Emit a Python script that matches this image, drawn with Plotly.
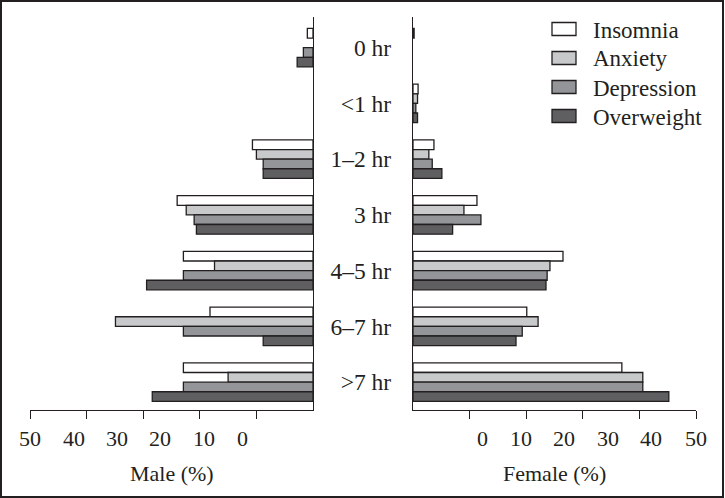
import plotly.graph_objects as go

categories = ["0 hr", "<1 hr", "1–2 hr", "3 hr", "4–5 hr", "6–7 hr", ">7 hr"]
series = ["Insomnia", "Anxiety", "Depression", "Overweight"]

# None = no bar drawn in the reference
male_insomnia = [1.0, None, 10.7, 24.0, 22.9, 18.2, 22.9]
male_anxiety = [None, None, 10.0, 22.4, 17.4, 34.9, 15.0]
male_depression = [1.7, None, 8.8, 21.0, 22.9, 22.9, 22.9]
male_overweight = [2.8, None, 8.8, 20.6, 29.4, 8.8, 28.4]

female_insomnia = [0.2, 0.9, 3.7, 11.3, 26.5, 20.1, 36.9]
female_anxiety = [None, 0.8, 2.8, 9.0, 24.2, 22.1, 40.6]
female_depression = [None, 0.5, 3.4, 12.0, 23.7, 19.3, 40.6]
female_overweight = [None, 0.8, 5.1, 7.0, 23.5, 18.2, 45.2]

male_tick_labels = ["50", "40", "30", "20", "10", "0"]
female_tick_labels = ["0", "10", "20", "30", "40", "50"]
tick_values = [10, 20, 30, 40, 50]

# ---- styling / layout ----
colors = ["#ffffff", "#c8c9cb", "#939598", "#5f5f61"]
INK = "#231f20"
FONT = "Liberation Serif"
W, H = 725, 498
L, R, T, B = 30, 29, 17, 88
PW, PH = W - L - R, H - T - B


def px(xp):
    return (xp - L) / PW


def py(yp):
    return (H - B - yp) / PH


male_vals = [male_insomnia, male_anxiety, male_depression, male_overweight]
female_vals = [female_insomnia, female_anxiety, female_depression, female_overweight]

fig = go.Figure()
for name, col, mv, fv in zip(series, colors, male_vals, female_vals):
    fig.add_trace(go.Bar(y=categories, x=mv, orientation="h", name=name,
                         marker=dict(color=col, line=dict(color=INK, width=1.3)),
                         xaxis="x", yaxis="y", showlegend=False))
    fig.add_trace(go.Bar(y=categories, x=fv, orientation="h", name=name,
                         marker=dict(color=col, line=dict(color=INK, width=1.3)),
                         xaxis="x2", yaxis="y2", showlegend=False))

axis_common = dict(showgrid=False, zeroline=False, showline=True, linecolor=INK,
                   linewidth=1.3, ticks="outside", ticklen=8, tickwidth=1.3,
                   tickcolor=INK, tickvals=tick_values, showticklabels=False)
yaxis_common = dict(type="category", categoryorder="array", categoryarray=categories,
                    range=[6.5, -0.55], showgrid=False, zeroline=False, showline=True,
                    linecolor=INK, linewidth=1.3, ticks="")

fig.update_layout(
    width=W, height=H,
    margin=dict(l=L, r=R, t=T, b=B),
    paper_bgcolor="white", plot_bgcolor="white",
    barmode="group", bargap=0.31, bargroupgap=0,
    font=dict(family=FONT, size=22, color=INK),
    xaxis=dict(domain=[0, px(313)], range=[50, 0], anchor="y", **axis_common),
    xaxis2=dict(domain=[px(413), 1], range=[0, 50], anchor="y2", **axis_common),
    yaxis=dict(anchor="x", side="right", showticklabels=False, **yaxis_common),
    yaxis2=dict(anchor="x2", side="left", showticklabels=True,
                ticklabelstandoff=16, tickfont=dict(family=FONT, size=23.5, color=INK),
                **yaxis_common),
)

annotations = []
male_label_px = [29.5, 73.7, 116.8, 160, 204, 242]
female_label_px = [482.7, 521.2, 564.2, 607.8, 651.2, 695.8]
for t, xp in zip(male_tick_labels, male_label_px):
    annotations.append(dict(text=t, x=px(xp), y=py(438), xref="paper", yref="paper",
                            xanchor="center", yanchor="middle", showarrow=False))
for t, xp in zip(female_tick_labels, female_label_px):
    annotations.append(dict(text=t, x=px(xp), y=py(438), xref="paper", yref="paper",
                            xanchor="center", yanchor="middle", showarrow=False))
annotations.append(dict(text="Male (%)", x=px(171.5), y=py(473), xref="paper", yref="paper",
                        xanchor="center", yanchor="middle", showarrow=False))
annotations.append(dict(text="Female (%)", x=px(554.5), y=py(473), xref="paper", yref="paper",
                        xanchor="center", yanchor="middle", showarrow=False))

shapes = []
for i, (name, col) in enumerate(zip(series, colors)):
    yc = 29 + 29 * i
    shapes.append(dict(type="rect", xref="paper", yref="paper",
                       x0=px(552), x1=px(576), y0=py(yc + 6.5), y1=py(yc - 6.5),
                       fillcolor=col, line=dict(color=INK, width=1.3)))
    annotations.append(dict(text=name, x=px(591), y=py(yc + 1), xref="paper", yref="paper",
                            xanchor="left", yanchor="middle", showarrow=False,
                            font=dict(size=23)))

# outer frame
shapes.append(dict(type="rect", xref="paper", yref="paper",
                   x0=px(1), x1=px(723), y0=py(497), y1=py(1),
                   line=dict(color=INK, width=2), fillcolor="rgba(0,0,0,0)"))

fig.update_layout(annotations=annotations, shapes=shapes)
fig.write_html("out.html", config={"displayModeBar": False},
               post_script="document.body.style.margin='0';")
